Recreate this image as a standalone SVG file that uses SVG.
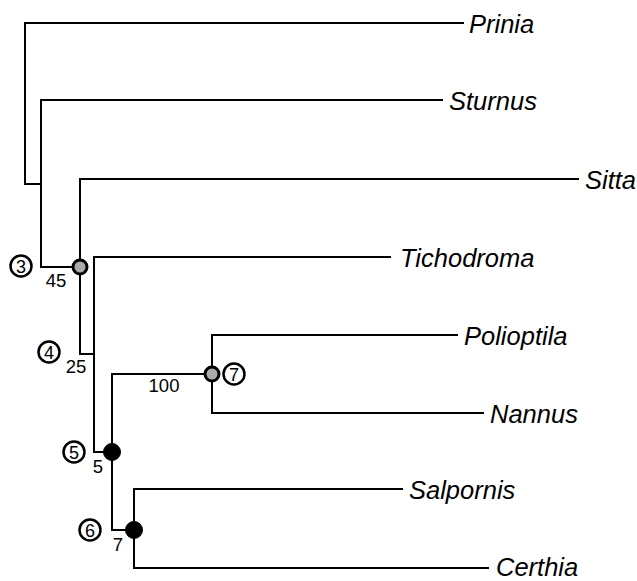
<svg xmlns="http://www.w3.org/2000/svg" width="637" height="581" viewBox="0 0 637 581">
<style>
.br{fill:none;stroke:#000;stroke-width:2;stroke-linecap:square}
.tip{font-family:"Liberation Sans",Arial,sans-serif;font-style:italic;font-size:25.5px;fill:#000}
.sup{font-family:"Liberation Sans",Arial,sans-serif;font-size:18.5px;fill:#000;text-anchor:middle}
.cn{fill:#fff;stroke:#000;stroke-width:2.5}
.cd{font-family:"Liberation Sans",Arial,sans-serif;font-size:18px;fill:#000;text-anchor:middle}
.gray{fill:#aaa;stroke:#000;stroke-width:3}
.black{fill:#000;stroke:#000;stroke-width:1}
</style>
<rect width="637" height="581" fill="#fff"/>
<g id="connectors">
<path class="br" d="M463 23H25V184H41"/>
<path class="br" d="M442 100H41V267H80"/>
<path class="br" d="M578 179H80V354H94"/>
<path class="br" d="M390 257H94V452H112"/>
<path class="br" d="M212 374H112V530H134"/>
<path class="br" d="M457 335H212V413H483"/>
<path class="br" d="M402 489H134V568H488"/>
</g>
<g id="tip-Prinia"><text class="tip" x="469" y="33">Prinia</text></g>
<g id="tip-Sturnus"><text class="tip" x="449" y="110">Sturnus</text></g>
<g id="tip-Sitta"><text class="tip" x="585" y="189">Sitta</text></g>
<g id="tip-Tichodroma"><text class="tip" x="400" y="267">Tichodroma</text></g>
<g id="tip-Polioptila"><text class="tip" x="464" y="345">Polioptila</text></g>
<g id="tip-Nannus"><text class="tip" x="490" y="423">Nannus</text></g>
<g id="tip-Salpornis"><text class="tip" x="409" y="499">Salpornis</text></g>
<g id="tip-Certhia"><text class="tip" x="496" y="576">Certhia</text></g>
<g id="node3">
<circle class="gray" cx="80" cy="267" r="7"/>
<text class="sup" x="56" y="287">45</text>
<circle class="cn" cx="21" cy="266" r="10.5"/>
<text class="cd" x="21" y="272.5">3</text>
</g>
<g id="node4">
<text class="sup" x="76" y="373">25</text>
<circle class="cn" cx="49" cy="352" r="10.5"/>
<text class="cd" x="49" y="358.5">4</text>
</g>
<g id="node5">
<circle class="black" cx="112" cy="452" r="8.5"/>
<text class="sup" x="98" y="473">5</text>
<circle class="cn" cx="74" cy="452" r="10.5"/>
<text class="cd" x="74" y="458.5">5</text>
</g>
<g id="node6">
<circle class="black" cx="134" cy="530" r="8.5"/>
<text class="sup" x="118" y="551">7</text>
<circle class="cn" cx="90" cy="530" r="10.5"/>
<text class="cd" x="90" y="536.5">6</text>
</g>
<g id="node7">
<circle class="gray" cx="212" cy="374" r="7"/>
<text class="sup" x="164" y="392">100</text>
<circle class="cn" cx="234" cy="374" r="10.5"/>
<text class="cd" x="234" y="380.5">7</text>
</g>
</svg>
